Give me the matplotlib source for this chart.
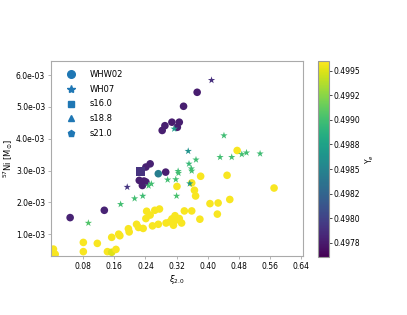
import matplotlib
matplotlib.use("Agg")
import matplotlib.pyplot as plt
from matplotlib.lines import Line2D

# WHW02 (circles): xi_2.0, 57Ni mass [1e-3 Msun], Ye
whw02_xi = [0.046, 0.134, 0.224, 0.232, 0.241, 0.236, 0.241, 0.252, 0.292, 0.273,
            0.283, 0.290, 0.308, 0.322, 0.327, 0.338, 0.373,
            0.003, 0.0075, 0.080, 0.080, 0.116, 0.153, 0.142, 0.153, 0.164, 0.171,
            0.174, 0.196, 0.198, 0.217, 0.222, 0.234, 0.241, 0.243, 0.252, 0.258,
            0.264, 0.276, 0.273, 0.293, 0.303, 0.308, 0.312, 0.316, 0.318, 0.327,
            0.333, 0.340, 0.321, 0.359, 0.359, 0.366, 0.369, 0.380, 0.382, 0.406,
            0.427, 0.425, 0.450, 0.457, 0.476, 0.571]
whw02_ni = [1.52, 1.75, 2.69, 2.53, 2.64, 2.67, 3.11, 3.21, 2.95, 2.90,
            4.26, 4.41, 4.52, 4.36, 4.52, 5.02, 5.46,
            0.53, 0.37, 0.74, 0.45, 0.71, 0.90, 0.45, 0.43, 0.52, 1.00,
            0.95, 1.17, 1.07, 1.31, 1.21, 1.18, 1.49, 1.72, 1.60, 1.26,
            1.75, 1.79, 1.31, 1.35, 1.39, 1.48, 1.28, 1.58, 1.44, 1.49,
            1.35, 1.73, 2.50, 2.61, 1.73, 2.38, 2.20, 1.47, 2.82, 1.96,
            1.98, 1.63, 2.85, 2.09, 3.63, 2.45]
whw02_ye = [0.49780, 0.49780, 0.49778, 0.49778, 0.49779, 0.49778, 0.49779, 0.49779, 0.49778, 0.49845,
            0.49778, 0.49778, 0.49777, 0.49778, 0.49778, 0.49778, 0.49777,
            0.49958, 0.49958, 0.49958, 0.49958, 0.49958, 0.49958, 0.49958, 0.49950, 0.49958, 0.49958,
            0.49958, 0.49958, 0.49958, 0.49958, 0.49958, 0.49958, 0.49958, 0.49958, 0.49958, 0.49958,
            0.49958, 0.49958, 0.49958, 0.49958, 0.49958, 0.49958, 0.49958, 0.49958, 0.49958, 0.49958,
            0.49958, 0.49958, 0.49958, 0.49958, 0.49958, 0.49958, 0.49958, 0.49958, 0.49958, 0.49958,
            0.49958, 0.49958, 0.49958, 0.49958, 0.49958, 0.49958]

# WH07 (stars)
wh07_xi = [0.093, 0.176, 0.212, 0.233, 0.255, 0.248, 0.297, 0.318, 0.320, 0.314,
           0.324, 0.325, 0.350, 0.352, 0.358, 0.359, 0.370, 0.354, 0.432, 0.442,
           0.462, 0.488, 0.500, 0.535, 0.193, 0.410]
wh07_ni = [1.35, 1.94, 2.12, 2.20, 2.58, 2.52, 2.71, 2.72, 2.20, 4.31,
           2.98, 2.92, 3.61, 3.21, 3.06, 2.99, 3.34, 2.59, 3.42, 4.10,
           3.42, 3.51, 3.56, 3.53, 2.48, 5.84]
wh07_ye = [0.49905, 0.49900, 0.49900, 0.49898, 0.49900, 0.49900, 0.49900, 0.49900, 0.49902, 0.49872,
           0.49898, 0.49900, 0.49862, 0.49895, 0.49898, 0.49900, 0.49898, 0.49870, 0.49900, 0.49898,
           0.49900, 0.49900, 0.49900, 0.49898, 0.49792, 0.49788]

# s16.0 (squares)
s16_xi = [0.228]
s16_ni = [2.98]
s16_ye = [0.49790]

# s18.8 and s21.0 have no visible points
s188_xi, s188_ni, s188_ye = [], [], []
s21_xi, s21_ni, s21_ye = [], [], []

x_ticks = [0.08, 0.16, 0.24, 0.32, 0.40, 0.48, 0.56, 0.64]
y_ticks = [1e-3, 2e-3, 3e-3, 4e-3, 5e-3, 6e-3]
cb_ticks = [0.49775, 0.49800, 0.49825, 0.49850, 0.49875, 0.49900, 0.49925, 0.49950]
cb_labels = ["0.4978", "0.4980", "0.4982", "0.4985", "0.4988", "0.4990", "0.4992", "0.4995"]

vmin, vmax = 0.49761, 0.49960
fs = 5.5

fig = plt.figure(figsize=(4.07, 3.15), dpi=100)
ax = fig.add_axes([0.1246, 0.187, 0.6194, 0.620])
cax = fig.add_axes([0.781, 0.185, 0.027, 0.622])

kw = dict(cmap="viridis", vmin=vmin, vmax=vmax, edgecolors="none")
sc = ax.scatter(whw02_xi, [v * 1e-3 for v in whw02_ni], c=whw02_ye, marker="o", s=30, **kw)
ax.scatter(wh07_xi, [v * 1e-3 for v in wh07_ni], c=wh07_ye, marker="*", s=30, **kw)
ax.scatter(s16_xi, [v * 1e-3 for v in s16_ni], c=s16_ye, marker="s", s=40, **kw)
if s188_xi:
    ax.scatter(s188_xi, [v * 1e-3 for v in s188_ni], c=s188_ye, marker="^", s=30, **kw)
if s21_xi:
    ax.scatter(s21_xi, [v * 1e-3 for v in s21_ni], c=s21_ye, marker="p", s=30, **kw)

ax.set_xlim(-0.004, 0.645)
ax.set_ylim(0.31e-3, 6.45e-3)
ax.set_xticks(x_ticks)
ax.set_xticklabels([f"{t:.2f}" for t in x_ticks])
ax.set_yticks(y_ticks)
ax.set_yticklabels([f"{t:.1e}" for t in y_ticks])
ax.tick_params(labelsize=fs, length=2, width=0.5, color="#999999", pad=2)
for sp in ax.spines.values():
    sp.set_color("#aaaaaa")
    sp.set_linewidth(0.8)
ax.set_xlabel(r"$\xi_{2.0}$", fontsize=fs + 0.5, labelpad=2)
ax.set_ylabel(r"$^{57}$Ni [M$_{\odot}$]", fontsize=fs + 0.5)
ax.yaxis.set_label_coords(-0.142, 0.5)

handles = [Line2D([], [], ls="none", marker=m, color="#1f77b4", markersize=ms)
           for m, ms in [("o", 5.5), ("*", 6), ("s", 5), ("^", 5), ("p", 5)]]
ax.legend(handles, ["WHW02", "WH07", "s16.0", "s18.8", "s21.0"], loc="upper left",
          bbox_to_anchor=(0.015, 0.995), frameon=False, fontsize=6,
          handletextpad=1.2, labelspacing=0.68, borderaxespad=0.6, borderpad=0.4)

cb = fig.colorbar(sc, cax=cax)
cb.set_ticks(cb_ticks)
cb.set_ticklabels(cb_labels)
cb.ax.tick_params(labelsize=fs, length=2, width=0.5, pad=1)
cb.outline.set_edgecolor("#999999")
cb.outline.set_linewidth(0.8)
cb.set_label(r"Y$_e$", fontsize=fs, labelpad=3)

fig.savefig("out.png", dpi=100)
